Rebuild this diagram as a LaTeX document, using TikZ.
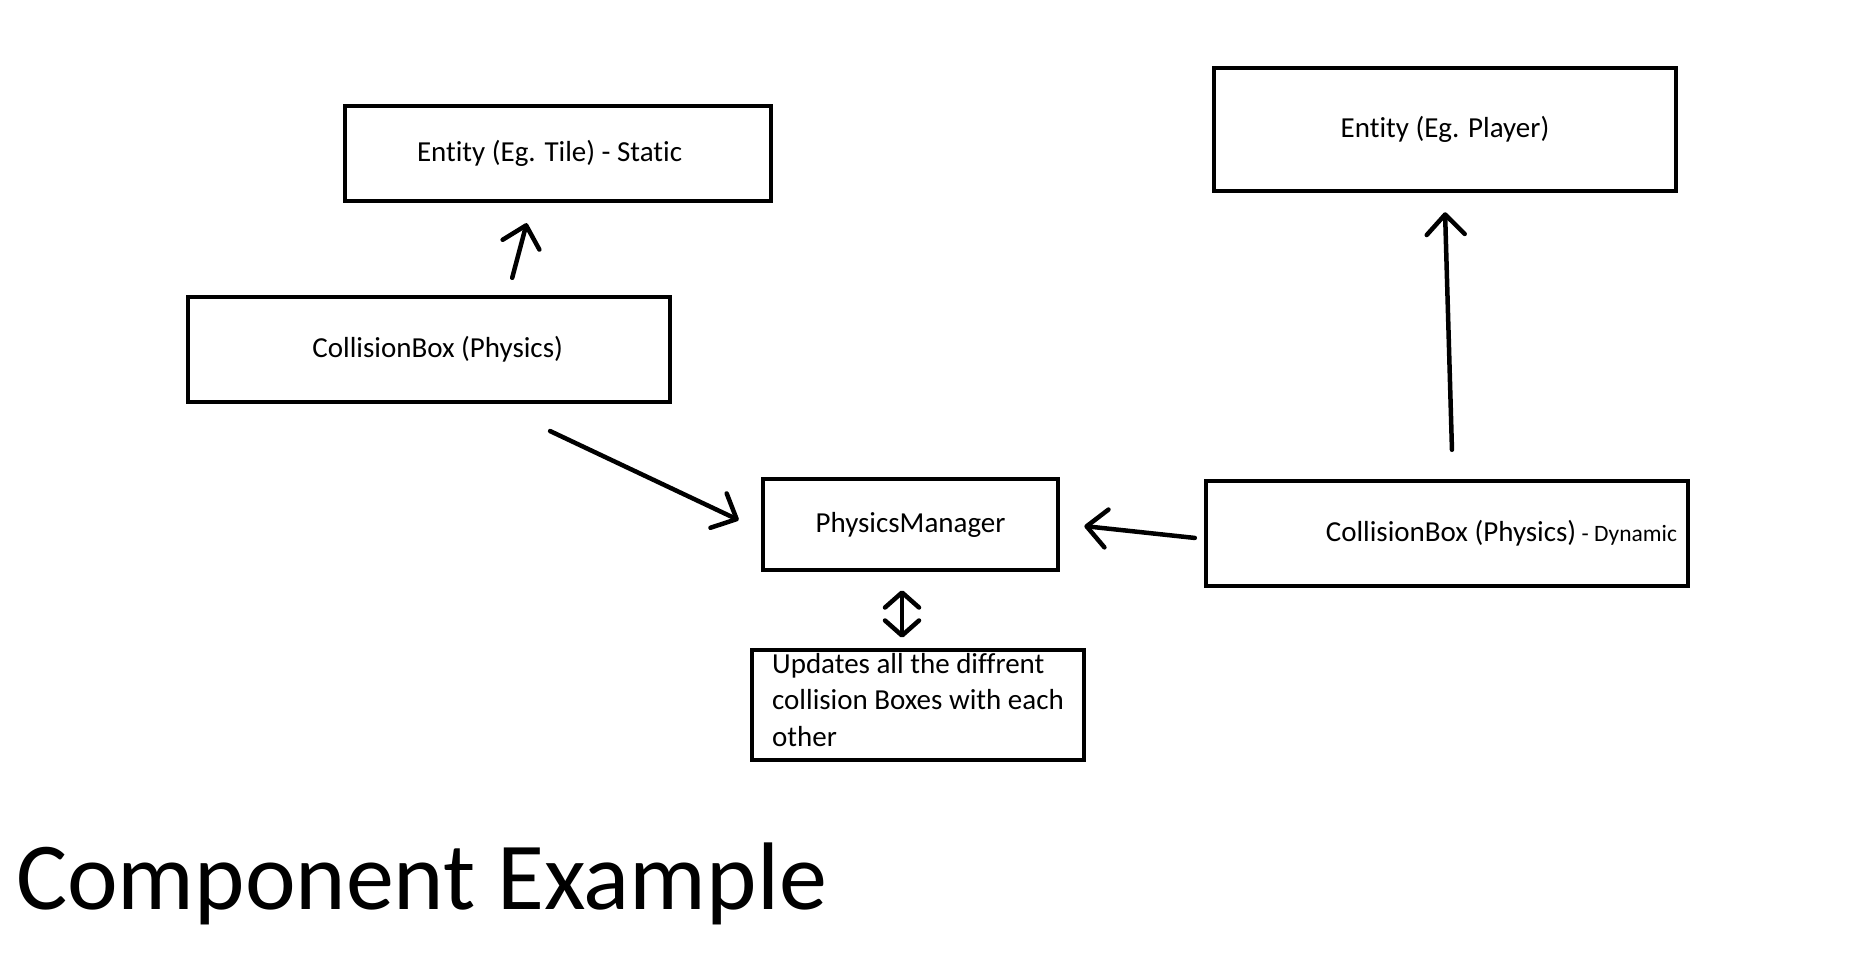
\documentclass[tikz,border=0pt]{standalone}
\usepackage{fontspec}
\setmainfont{Carlito}[Ligatures={NoCommon,NoRequired,NoContextual}]
\usetikzlibrary{arrows.meta}

\begin{document}
\begin{tikzpicture}[x=1pt, y=-1pt]
\useasboundingbox (0,0) rectangle (1852,956);
\tikzset{compbox/.style={draw, line width=4.5pt, inner sep=0pt, font=\fontsize{29}{36.5}\selectfont}}
\node[compbox, minimum width=426pt, minimum height=95pt, text width=282pt, align=flush left] (tile) at (558,153.5) {Entity (Eg. Tile) - Static};
\node[compbox, minimum width=462pt, minimum height=123pt] (player) at (1445,129.5) {Entity (Eg. Player)};
\node[compbox, minimum width=482pt, minimum height=105pt, text width=268pt, align=flush right] (cbox) at (429,349.5) {CollisionBox (Physics)};
\node[compbox, minimum width=295pt, minimum height=91pt] (manager) at (910.5,524.5) {PhysicsManager};
\node[compbox, minimum width=482pt, minimum height=105pt, text width=460pt, align=flush right] (dynamic) at (1447,533.5)
  {CollisionBox (Physics){\fontsize{23.5}{28}\selectfont\ - Dynamic}};
\node[compbox, minimum width=332pt, minimum height=110pt, align=flush left] (updates) at (918,705)
  {Updates all the diffrent\\collision Boxes with each\\other\strut};

\node[anchor=base west, inner sep=0pt, font=\fontsize{96}{115}\selectfont] (title) at (16,909) {Component Example};

\tikzset{link/.style={line width=4.5pt, line cap=round, -{Straight Barb[length=20pt,width=38pt,round]}}}
\path ([xshift=78.7pt]cbox.north) edge [link, shorten <=17.5pt, shorten >=20.6pt] ([xshift=-26pt]tile.south);
\path ([xshift=5.8pt]dynamic.north) edge [link, shorten <=29pt, shorten >=19pt] ([xshift=-0.5pt]player.south);
\path ([xshift=64.3pt]cbox.south) edge [link, shorten <=62.8pt, shorten >=24.4pt] ([yshift=-6pt]manager.west);
\path ([yshift=-5.4pt]dynamic.west) edge [link, shorten <=9pt, shorten >=24.2pt] ([yshift=1pt]manager.east);

\tikzset{link/.style={line width=4.5pt, line cap=round, {Straight Barb[length=15pt,width=34pt,round]}-{Straight Barb[length=15pt,width=34pt,round]}}}
\path ([xshift=-8.5pt]manager.south) edge [link, shorten <=18pt, shorten >=10pt] ([xshift=-16pt]updates.north);
\end{tikzpicture}
\end{document}
